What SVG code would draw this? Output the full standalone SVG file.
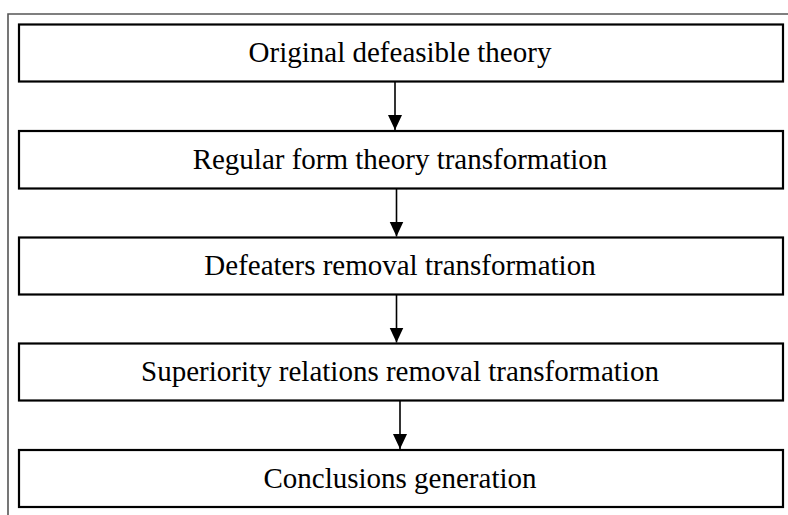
<svg xmlns="http://www.w3.org/2000/svg" width="788" height="515" viewBox="0 0 788 515">
<style>
.box{fill:#fff;stroke:#000;stroke-width:2.2}
.lbl{font-family:"Liberation Serif","Times New Roman",serif;font-size:29px;fill:#000;text-anchor:middle}
.conn{stroke:#000;stroke-width:1.6;fill:none}
.frame{stroke:#555;stroke-width:1.6;fill:none}
</style>
<defs>
<marker id="ah" markerUnits="userSpaceOnUse" markerWidth="15" markerHeight="16" refX="15" refY="7" orient="auto">
<path d="M0,0 L15,7 L0,14 Z" fill="#000"/>
</marker>
</defs>
<rect width="788" height="515" fill="#fff"/>
<path class="frame" d="M8,515 L8,14 L788,14"/>
<g id="n1"><rect class="box" x="19" y="24.5" width="764" height="57"/><text class="lbl" x="400" y="62">Original defeasible theory</text></g>
<g id="n2"><rect class="box" x="19" y="131" width="764" height="57.5"/><text class="lbl" x="400" y="168.5">Regular form theory transformation</text></g>
<g id="n3"><rect class="box" x="19" y="237.5" width="764" height="57"/><text class="lbl" x="400" y="274.5">Defeaters removal transformation</text></g>
<g id="n4"><rect class="box" x="19" y="343.5" width="764" height="57"/><text class="lbl" x="400" y="380.5">Superiority relations removal transformation</text></g>
<g id="n5"><rect class="box" x="19" y="450" width="764" height="57"/><text class="lbl" x="400" y="487.5">Conclusions generation</text></g>
<g id="connectors">
<line class="conn" x1="395" y1="82" x2="395" y2="130" marker-end="url(#ah)"/>
<line class="conn" x1="396.5" y1="189" x2="396.5" y2="236.5" marker-end="url(#ah)"/>
<line class="conn" x1="396.5" y1="295" x2="396.5" y2="342.5" marker-end="url(#ah)"/>
<line class="conn" x1="400" y1="401" x2="400" y2="449" marker-end="url(#ah)"/>
</g>
</svg>
